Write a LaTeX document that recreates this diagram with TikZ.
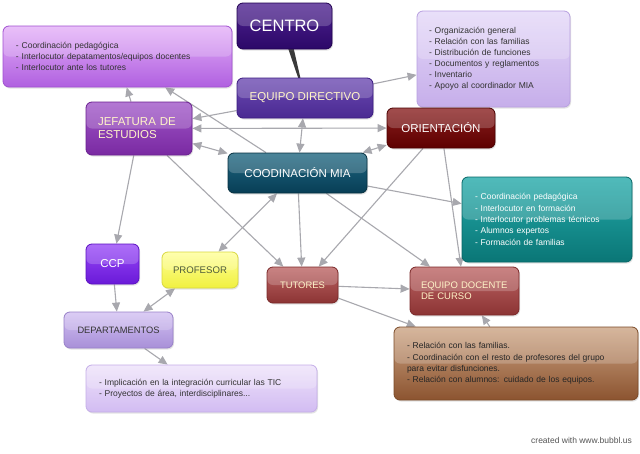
\documentclass[tikz,border=0pt]{standalone}
\usepackage{fontspec}
\setmainfont{Liberation Sans}
\usetikzlibrary{arrows.meta,shadows,backgrounds,calc}
\definecolor{lgray}{HTML}{A8A8AE}
\definecolor{paleY}{HTML}{FFF4C8}
\definecolor{boxaT}{HTML}{E4B0F8}\definecolor{boxaB}{HTML}{B060E0}\definecolor{boxaD}{HTML}{A050D0}
\definecolor{cenT}{HTML}{4E2290}\definecolor{cenB}{HTML}{2C0868}\definecolor{cenD}{HTML}{200050}
\definecolor{edT}{HTML}{6C4AB2}\definecolor{edB}{HTML}{4A2A92}\definecolor{edD}{HTML}{3A1A80}
\definecolor{trT}{HTML}{E4D8F8}\definecolor{trB}{HTML}{C6AEEA}\definecolor{trD}{HTML}{B8A0E0}
\definecolor{jefT}{HTML}{A056C8}\definecolor{jefB}{HTML}{7A2AA2}\definecolor{jefD}{HTML}{6A2090}
\definecolor{oriT}{HTML}{8A2020}\definecolor{oriB}{HTML}{5E0000}\definecolor{oriD}{HTML}{4A0000}
\definecolor{coT}{HTML}{1E6680}\definecolor{coB}{HTML}{083E56}\definecolor{coD}{HTML}{063040}
\definecolor{teT}{HTML}{24AAAA}\definecolor{teB}{HTML}{0A7676}\definecolor{teD}{HTML}{086666}
\definecolor{ccT}{HTML}{9848F8}\definecolor{ccB}{HTML}{6A1AD8}\definecolor{ccD}{HTML}{5A10C0}
\definecolor{prT}{HTML}{FFFF98}\definecolor{prB}{HTML}{F0F040}\definecolor{prD}{HTML}{D8D840}
\definecolor{prText}{HTML}{4D5A3A}
\definecolor{tuT}{HTML}{BC6464}\definecolor{tuB}{HTML}{8C3434}\definecolor{tuD}{HTML}{7A2828}
\definecolor{deT}{HTML}{D2C0F2}\definecolor{deB}{HTML}{A890D8}\definecolor{deD}{HTML}{9880C8}
\definecolor{brT}{HTML}{CCA484}\definecolor{brB}{HTML}{8C5430}\definecolor{brD}{HTML}{7A4A28}
\definecolor{bbT}{HTML}{EEE2FA}\definecolor{bbB}{HTML}{D2BCF2}\definecolor{bbD}{HTML}{C4AEE8}
\definecolor{darkT}{HTML}{333333}
\definecolor{wedgec}{HTML}{3A3A3A}
\definecolor{credc}{HTML}{555555}
\tikzset{
  bbase/.style={rounded corners=6pt, line width=0.8pt, inner ysep=0pt,
    drop shadow={opacity=0.22,shadow xshift=1pt,shadow yshift=-1.5pt},
    path picture={\fill[white,opacity=0.2] (path picture bounding box.north west) rectangle (path picture bounding box.east);}},
  ttl/.style={bbase, inner xsep=0pt, align=center, font=\fontsize{11.5}{13}\selectfont},
  notebox/.style={bbase, align=left, font=\fontsize{8.5}{11.3}\selectfont, inner xsep=13pt},
  arr/.style={draw=lgray, line width=1.1pt, -{Triangle[length=9pt,width=8pt]}},
  arrtwo/.style={draw=lgray, line width=1.1pt, {Triangle[length=9pt,width=8pt]}-{Triangle[length=9pt,width=8pt]}},
}
\begin{document}
\begin{tikzpicture}[x=1pt,y=-1pt]
\useasboundingbox (0,0) rectangle (640,453);
% nodes
\node[notebox, text width=203pt, minimum height=61pt, draw=boxaD, top color=boxaT, bottom color=boxaB, text=darkT] (box1) at (117.5,56.5)
  {- Coordinación pedagógica\\- Interlocutor depatamentos/equipos docentes\\- Interlocutor ante los tutores};
\node[ttl, minimum width=95pt, minimum height=46pt, draw=cenD, top color=cenT, bottom color=cenB, text=white, font=\fontsize{16.5}{18}\selectfont] (centro) at (284.5,26) {CENTRO};
\node[ttl, minimum width=136pt, minimum height=40pt, draw=edD, top color=edT, bottom color=edB, text=paleY] (ed) at (305,98) {EQUIPO DIRECTIVO};
\node[notebox, inner xsep=12pt, text width=129pt, minimum height=96pt, draw=trD, top color=trT, bottom color=trB, text=darkT, font=\fontsize{8.5}{11}\selectfont] (tr) at (493.5,59)
  {- Organización general\\- Relación con las familias\\- Distribución de funciones\\- Documentos y reglamentos\\- Inventario\\- Apoyo al coordinador MIA};
\node[bbase, inner xsep=12pt, text width=82pt, align=left, minimum height=53pt, draw=jefD, top color=jefT, bottom color=jefB, text=paleY, font=\fontsize{11.5}{13}\selectfont] (jef) at (139,128.5) {JEFATURA DE\\ESTUDIOS};
\node[ttl, minimum width=108pt, minimum height=40pt, draw=oriD, top color=oriT, bottom color=oriB, text=white] (ori) at (441,128) {ORIENTACIÓN};
\node[ttl, minimum width=139pt, minimum height=40pt, draw=coD, top color=coT, bottom color=coB, text=white] (cood) at (297.5,173) {COODINACIÓN MIA};
\node[notebox, text width=144pt, minimum height=85pt, draw=teD, top color=teT, bottom color=teB, text=white] (teal) at (547,219.5)
  {- Coordinación pedagógica\\- Interlocutor en formación\\- Interlocutor problemas técnicos\\- Alumnos expertos\\- Formación de familias};
\node[ttl, minimum width=53pt, minimum height=40pt, draw=ccD, top color=ccT, bottom color=ccB, text=white] (ccp) at (112.5,264) {CCP};
\node[ttl, minimum width=76pt, minimum height=36pt, draw=prD, top color=prT, bottom color=prB, text=prText, font=\fontsize{9.6}{11}\selectfont] (prof) at (200,270) {PROFESOR};
\node[ttl, minimum width=71pt, minimum height=36pt, draw=tuD, top color=tuT, bottom color=tuB, text=paleY, font=\fontsize{9.4}{11}\selectfont] (tut) at (302.5,285) {TUTORES};
\node[bbase, inner xsep=11pt, text width=87pt, align=left, minimum height=48pt, draw=tuD, top color=tuT, bottom color=tuB, text=paleY, font=\fontsize{9.5}{11}\selectfont] (eqdoc) at (464.5,291) {EQUIPO DOCENTE\\DE CURSO};
\node[ttl, minimum width=109pt, minimum height=36pt, draw=deD, top color=deT, bottom color=deB, text=darkT, font=\fontsize{9.3}{11}\selectfont] (dept) at (118.5,330) {DEPARTAMENTOS};
\node[notebox, text width=218pt, minimum height=73pt, draw=brD, top color=brT, bottom color=brB, text=black!85] (brown) at (516,363.5)
  {- Relación con las familias.\\- Coordinación con el resto de profesores del grupo\\para evitar disfunciones.\\- Relación con alumnos: cuidado de los equipos.};
\node[notebox, text width=205pt, minimum height=47pt, draw=bbD, top color=bbT, bottom color=bbB, text=darkT] (bb) at (201.5,388.5)
  {- Implicación en la integración curricular las TIC\\- Proyectos de área, interdisciplinares...};
\node[anchor=east, inner sep=0pt, text=credc, font=\fontsize{8.5}{10}\selectfont] (credit) at (632,440) {created with www.bubbl.us};
% connectors
\begin{pgfonlayer}{background}
\fill[white] (0,0) rectangle (640,453);
\fill[wedgec] ($(centro.center)+(-4,0)$) -- ($(centro.center)+(4,0)$) -- (ed.center) -- cycle;
\draw[arr] (ed) -- (tr);
\draw[arr] (jef) -- (box1);
\draw[arr] (cood) -- (box1);
\draw[arr] (ed) -- (jef);
\draw[arrtwo] (jef) -- (ori);
\draw[arrtwo] (jef) -- (cood);
\draw[arrtwo] (ed) -- (cood);
\draw[arrtwo] (ori) -- (cood);
\draw[arr] (cood) -- (teal);
\draw[arr] (jef) -- (tut);
\draw[arr] (jef) -- (ccp);
\draw[arr] (ori) -- (tut);
\draw[arr] (ori) -- (eqdoc);
\draw[arr] (cood) -- (eqdoc);
\draw[arr] (cood) -- (tut);
\draw[arrtwo] (cood) -- (prof);
\draw[arr] (ccp) -- (dept);
\draw[arrtwo] (prof) -- (dept);
\draw[arr] (dept) -- (bb);
\draw[arr] (tut) -- (eqdoc);
\draw[arr] (tut) -- (brown);
\draw[arr] (brown) -- (eqdoc);
\end{pgfonlayer}
\end{tikzpicture}
\end{document}
